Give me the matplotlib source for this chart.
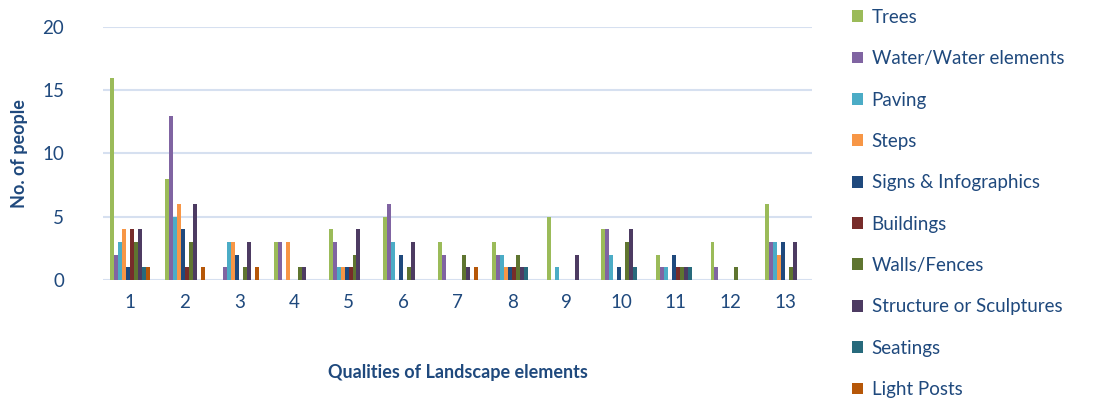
import matplotlib.pyplot as plt
import numpy as np

plt.rcParams['font.family'] = ['Lato', 'DejaVu Sans']

qualities = [1, 2, 3, 4, 5, 6, 7, 8, 9, 10, 11, 12, 13]

trees       = [16, 8, 0, 3, 4, 5, 3, 3, 5, 4, 2, 3, 6]
water       = [2, 13, 1, 3, 3, 6, 2, 2, 0, 4, 1, 1, 3]
paving      = [3, 5, 3, 0, 1, 3, 0, 2, 1, 2, 1, 0, 3]
steps       = [4, 6, 3, 3, 1, 0, 0, 1, 0, 0, 0, 0, 2]
signs       = [1, 4, 2, 0, 1, 2, 0, 1, 0, 1, 2, 0, 3]
buildings   = [4, 1, 0, 0, 1, 0, 0, 1, 0, 0, 1, 0, 0]
walls       = [3, 3, 1, 1, 2, 1, 2, 2, 0, 3, 1, 1, 1]
structure   = [4, 6, 3, 1, 4, 3, 1, 1, 2, 4, 1, 0, 3]
seatings    = [1, 0, 0, 0, 0, 0, 0, 1, 0, 1, 1, 0, 0]
light_posts = [1, 1, 1, 0, 0, 0, 1, 0, 0, 0, 0, 0, 0]

series = [
    ("Trees", trees, "#9BBB59"),
    ("Water/Water elements", water, "#8064A2"),
    ("Paving", paving, "#4BACC6"),
    ("Steps", steps, "#F79646"),
    ("Signs & Infographics", signs, "#1F497D"),
    ("Buildings", buildings, "#772C2A"),
    ("Walls/Fences", walls, "#5F7530"),
    ("Structure or Sculptures", structure, "#4D3B62"),
    ("Seatings", seatings, "#276A7C"),
    ("Light Posts", light_posts, "#B65708"),
]

text_col = "#1F497D"

fig = plt.figure(figsize=(11.03, 4.05), dpi=100)
ax = fig.add_axes([0.0934, 0.309, 0.643, 0.624])

x = np.arange(len(qualities))
w = 0.073
handles = []
for i, (name, vals, col) in enumerate(series):
    off = (i - (len(series) - 1) / 2) * w
    b = ax.bar(x + off, vals, width=w, color=col, label=name, zorder=3)
    handles.append(b)

ax.set_xlim(-0.5, len(qualities) - 0.5)
ax.set_ylim(0, 20)
ax.set_yticks([0, 5, 10, 15, 20])
ax.set_xticks(x)
ax.set_xticklabels([str(q) for q in qualities])
ax.yaxis.grid(True, color="#D6E0F0", linewidth=1.5, zorder=0)
for s in ax.spines.values():
    s.set_visible(False)
ax.tick_params(axis="both", length=0, labelsize=13.5, colors=text_col)
ax.tick_params(axis="y", pad=28)
ax.tick_params(axis="x", pad=10)

ax.set_ylabel("No. of people", fontsize=13, fontweight="bold", color=text_col, labelpad=10)
ax.set_xlabel("Qualities of Landscape elements", fontsize=13, fontweight="bold",
              color=text_col, labelpad=38)

leg = fig.legend(handles=handles, loc="upper left", bbox_to_anchor=(0.757, 1.02),
                 frameon=False, fontsize=13.5, labelspacing=1.3,
                 handlelength=0.6, handleheight=0.6, handletextpad=0.45)
for t in leg.get_texts():
    t.set_color(text_col)

fig.savefig("out.png", dpi=100)
